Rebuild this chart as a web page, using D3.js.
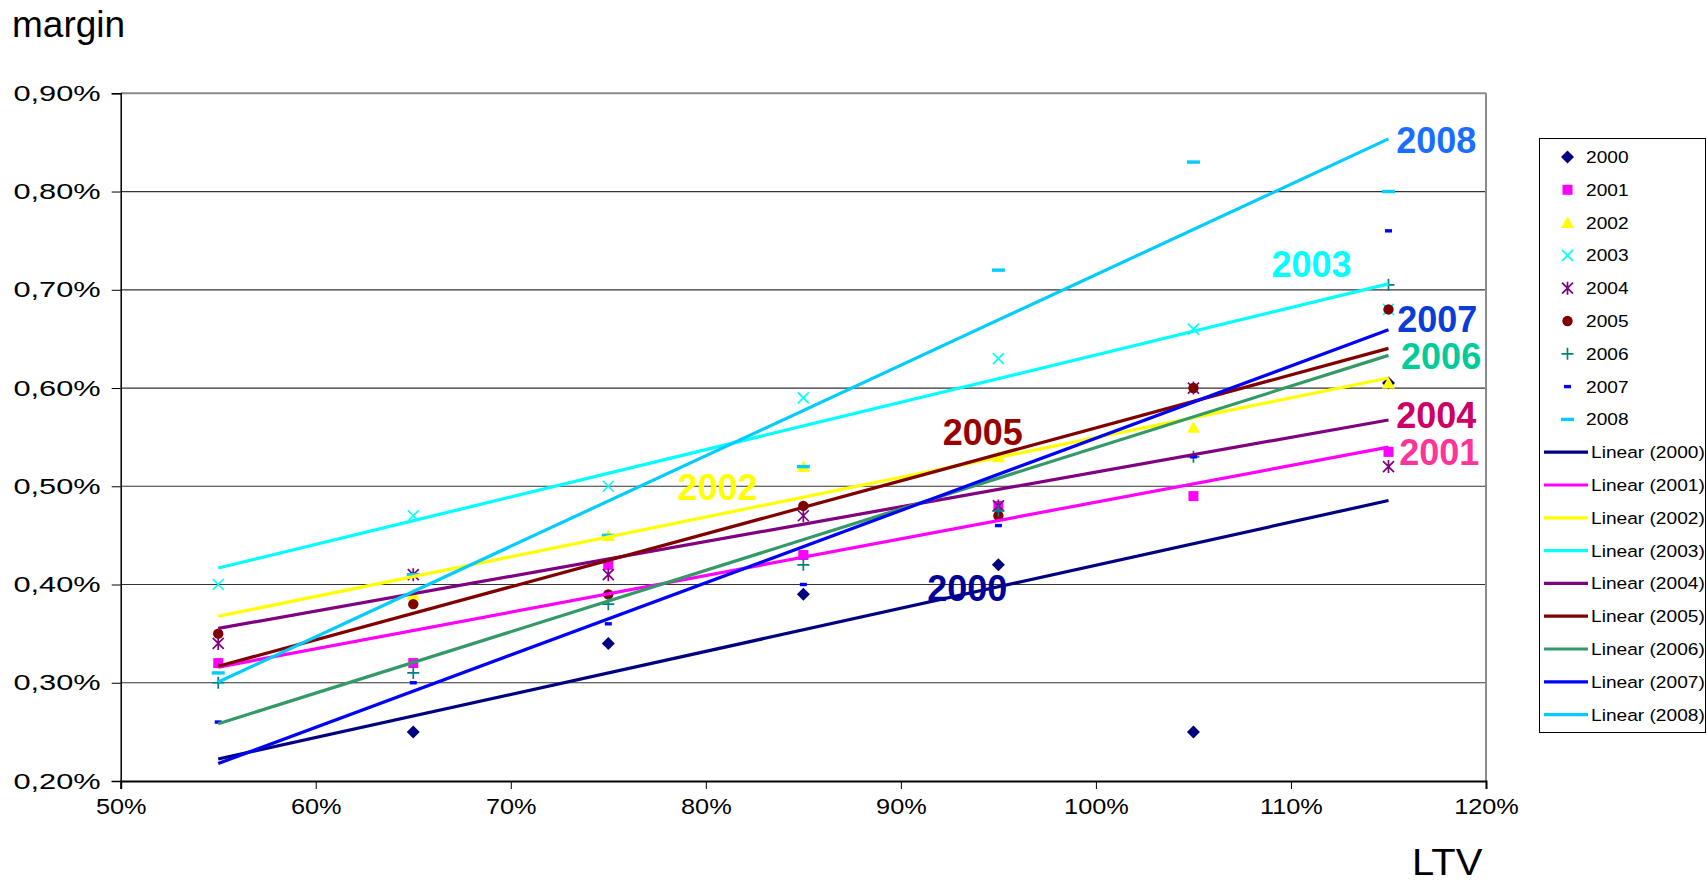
<!DOCTYPE html>
<html>
<head>
<meta charset="utf-8">
<script src="https://cdn.jsdelivr.net/npm/d3@7"></script>
<style>
  html, body { margin: 0; padding: 0; background: #fff; }
  svg { display: block; font-family: "Liberation Sans", Arial, sans-serif; }
</style>
</head>
<body>
<svg id="chart" width="1707" height="883"></svg>
<script>
// LTV buckets (%) and margin by origination year (%)
const ltv = [55, 65, 75, 85, 95, 105, 115];
const years = ["2000", "2001", "2002", "2003", "2004", "2005", "2006", "2007", "2008"];
const m2000 = [null, 0.25, 0.34, 0.39, 0.42, 0.25, 0.605];
const m2001 = [0.32, 0.32, 0.42, 0.43, 0.48, 0.49, 0.535];
const m2002 = [null, 0.39, 0.45, 0.52, 0.53, 0.56, 0.605];
const m2003 = [0.40, 0.47, 0.50, 0.59, 0.63, 0.66, 0.68];
const m2004 = [0.34, 0.41, 0.41, 0.47, 0.48, 0.60, 0.52];
const m2005 = [0.35, 0.38, 0.39, 0.48, 0.47, 0.60, 0.68];
const m2006 = [0.30, 0.31, 0.38, 0.42, 0.475, 0.53, 0.705];
const m2007 = [0.26, 0.30, 0.36, 0.40, 0.46, 0.53, 0.76];
const m2008 = [0.31, 0.41, 0.45, 0.52, 0.72, 0.83, 0.80];
const margins = [m2000, m2001, m2002, m2003, m2004, m2005, m2006, m2007, m2008];

const xTickValues = [50, 60, 70, 80, 90, 100, 110, 120];
const yTickValues = [0.20, 0.30, 0.40, 0.50, 0.60, 0.70, 0.80, 0.90];
const xTitle = "LTV";
const yTitle = "margin";

// Styling per year
const markerColor = ["#000080", "#ff00ff", "#ffff00", "#00ffff", "#800080", "#800000", "#008080", "#0000ff", "#00ccff"];
const lineColor   = ["#000080", "#ff00ff", "#ffff00", "#00ffff", "#800080", "#800000", "#339966", "#0000ff", "#00ccff"];
const markerShape = ["diamond", "square", "triangle", "times", "asterisk", "circle", "plus", "dashShort", "dashLong"];

// In-plot year captions: position in data units (LTV %, margin %)
const captionYear = ["2008", "2003", "2007", "2006", "2004", "2001", "2005", "2002", "2000"];
const captionX    = [117.45, 111.05, 117.5, 117.7, 117.45, 117.6, 94.2, 80.6, 93.4];
const captionY    = [0.8525, 0.7262, 0.6701, 0.6322, 0.5724, 0.5348, 0.5556, 0.4992, 0.3964];
const captionColor = ["#1a6eff", "#00ffff", "#0a3dd6", "#00cc99", "#cc0066", "#ff3399", "#990000", "#ffff00", "#000099"];

const svg = d3.select("#chart");
const plot = { left: 120.7, right: 1486, top: 93.3, bottom: 781 };

const x = d3.scaleLinear().domain([50, 120]).range([plot.left, plot.right]);
const y = d3.scaleLinear().domain([0.20, 0.90]).range([plot.bottom, plot.top]);

// Horizontal gridlines
svg.append("g")
  .selectAll("line")
  .data(yTickValues.filter(v => v > 0.2 && v < 0.9))
  .join("line")
  .attr("x1", plot.left).attr("x2", plot.right)
  .attr("y1", d => y(d)).attr("y2", d => y(d))
  .attr("stroke", "#333").attr("stroke-width", 1.2);

// Plot frame (top and right in grey)
svg.append("line")
  .attr("x1", plot.left).attr("x2", plot.right)
  .attr("y1", plot.top).attr("y2", plot.top)
  .attr("stroke", "#8a8a8a").attr("stroke-width", 2);
svg.append("line")
  .attr("x1", plot.right).attr("x2", plot.right)
  .attr("y1", plot.top).attr("y2", plot.bottom)
  .attr("stroke", "#8a8a8a").attr("stroke-width", 2);

// Axes
const fmtY = d => d.toFixed(2).replace(".", ",") + "%";
const ySx = 1.4;   // horizontal stretch of the y tick labels
const yAxis = d3.axisLeft(y).tickValues(yTickValues).tickSize(9).tickPadding(10).tickFormat(fmtY);
const gy = svg.append("g").attr("transform", `translate(${plot.left},0)`).call(yAxis);
gy.select(".domain").attr("stroke", "#000").attr("stroke-width", 1.5);
gy.selectAll(".tick line").attr("stroke", "#000");
gy.selectAll(".tick text").attr("font-size", 22).attr("fill", "#000")
  .attr("font-family", "Liberation Sans, Arial, sans-serif")
  .attr("x", -20 / ySx)
  .attr("transform", `scale(${ySx},1)`);

const xSx = 1.15;  // horizontal stretch of the x tick labels
const xAxis = d3.axisBottom(x).tickValues(xTickValues).tickSize(8).tickPadding(9).tickFormat(d => d + "%");
const gx = svg.append("g").attr("transform", `translate(0,${plot.bottom})`).call(xAxis);
gx.select(".domain").attr("stroke", "#000").attr("stroke-width", 2);
gx.selectAll(".tick line").attr("stroke", "#000");
gx.selectAll(".tick text").attr("font-size", 22).attr("fill", "#000")
  .attr("font-family", "Liberation Sans, Arial, sans-serif")
  .attr("transform", `scale(${xSx},1)`);

// Axis titles
svg.append("text").attr("x", 12).attr("y", 37).attr("font-size", 37).text(yTitle);
svg.append("text").attr("transform", "translate(1412,875) scale(1.08,1)")
  .attr("font-size", 37).text(xTitle);

// Least-squares fit over the available points
function fit(vals) {
  const pts = ltv.map((lx, i) => [lx, vals[i]]).filter(p => p[1] != null);
  const mx = d3.mean(pts, p => p[0]), my = d3.mean(pts, p => p[1]);
  const sxy = d3.sum(pts, p => (p[0] - mx) * (p[1] - my));
  const sxx = d3.sum(pts, p => (p[0] - mx) ** 2);
  const b = sxy / sxx;
  return v => my + b * (v - mx);
}

// Marker paths centred at 0,0
function markerPath(shape) {
  switch (shape) {
    case "diamond":   return "M0,-6.5 L6.5,0 L0,6.5 L-6.5,0 Z";
    case "square":    return "M-5,-5 H5 V5 H-5 Z";
    case "triangle":  return "M0,-6 L6.5,5.5 L-6.5,5.5 Z";
    case "times":     return "M-5.5,-5.5 L5.5,5.5 M5.5,-5.5 L-5.5,5.5";
    case "asterisk":  return "M-5.5,-5.5 L5.5,5.5 M5.5,-5.5 L-5.5,5.5 M0,-6.5 V6.5";
    case "circle":    return d3.symbol(d3.symbolCircle, 85)();
    case "plus":      return "M-6,0 H6 M0,-6 V6";
    case "dashShort": return "M-3.5,-1.7 H3.5 V1.7 H-3.5 Z";
    case "dashLong":  return "M-6.5,-1.7 H6.5 V1.7 H-6.5 Z";
  }
}
const strokeShapes = new Set(["times", "asterisk", "plus"]);

function drawMarker(sel, shape, color) {
  sel.append("path")
    .attr("d", markerPath(shape))
    .attr("fill", strokeShapes.has(shape) ? "none" : color)
    .attr("stroke", strokeShapes.has(shape) ? color : "none")
    .attr("stroke-width", 1.7);
}

// Markers
const gMarks = svg.append("g");
margins.forEach((vals, s) => {
  vals.forEach((v, i) => {
    if (v == null) return;
    const g = gMarks.append("g").attr("transform", `translate(${x(ltv[i])},${y(v)})`);
    drawMarker(g, markerShape[s], markerColor[s]);
  });
});

// Linear trend lines, drawn across the full LTV range
const gTrend = svg.append("g");
margins.forEach((vals, s) => {
  const f = fit(vals);
  const x0 = d3.min(ltv), x1 = d3.max(ltv);
  gTrend.append("line")
    .attr("x1", x(x0)).attr("y1", y(f(x0)))
    .attr("x2", x(x1)).attr("y2", y(f(x1)))
    .attr("stroke", lineColor[s]).attr("stroke-width", 3.2);
});

// Year captions
svg.append("g").selectAll("text")
  .data(captionYear)
  .join("text")
  .attr("x", (d, i) => x(captionX[i]))
  .attr("y", (d, i) => y(captionY[i]))
  .attr("dy", "0.36em")
  .attr("text-anchor", "middle")
  .attr("font-size", 36)
  .attr("font-weight", "bold")
  .attr("fill", (d, i) => captionColor[i])
  .text(d => d);

// Legend
const lgSx = 1.16; // horizontal stretch of the legend labels
const lg = svg.append("g");
lg.append("rect")
  .attr("x", 1539.5).attr("y", 138.5).attr("width", 166).attr("height", 594)
  .attr("fill", "#fff").attr("stroke", "#000").attr("stroke-width", 1);
const rowY = i => 157 + i * 32.8;
years.forEach((yr, s) => {
  const g = lg.append("g").attr("transform", `translate(1567.5,${rowY(s)})`);
  drawMarker(g, markerShape[s], markerColor[s]);
  lg.append("text").attr("transform", `translate(1586,${rowY(s)}) scale(${lgSx},1)`)
    .attr("dy", "0.36em").attr("font-size", 16.5).text(yr);
});
years.forEach((yr, s) => {
  const r = rowY(9 + s);
  lg.append("line").attr("x1", 1544).attr("x2", 1588).attr("y1", r).attr("y2", r)
    .attr("stroke", lineColor[s]).attr("stroke-width", 3.2);
  lg.append("text").attr("transform", `translate(1591,${r}) scale(${lgSx},1)`)
    .attr("dy", "0.36em").attr("font-size", 16.5).text(`Linear (${yr})`);
});
</script>
</body>
</html>
